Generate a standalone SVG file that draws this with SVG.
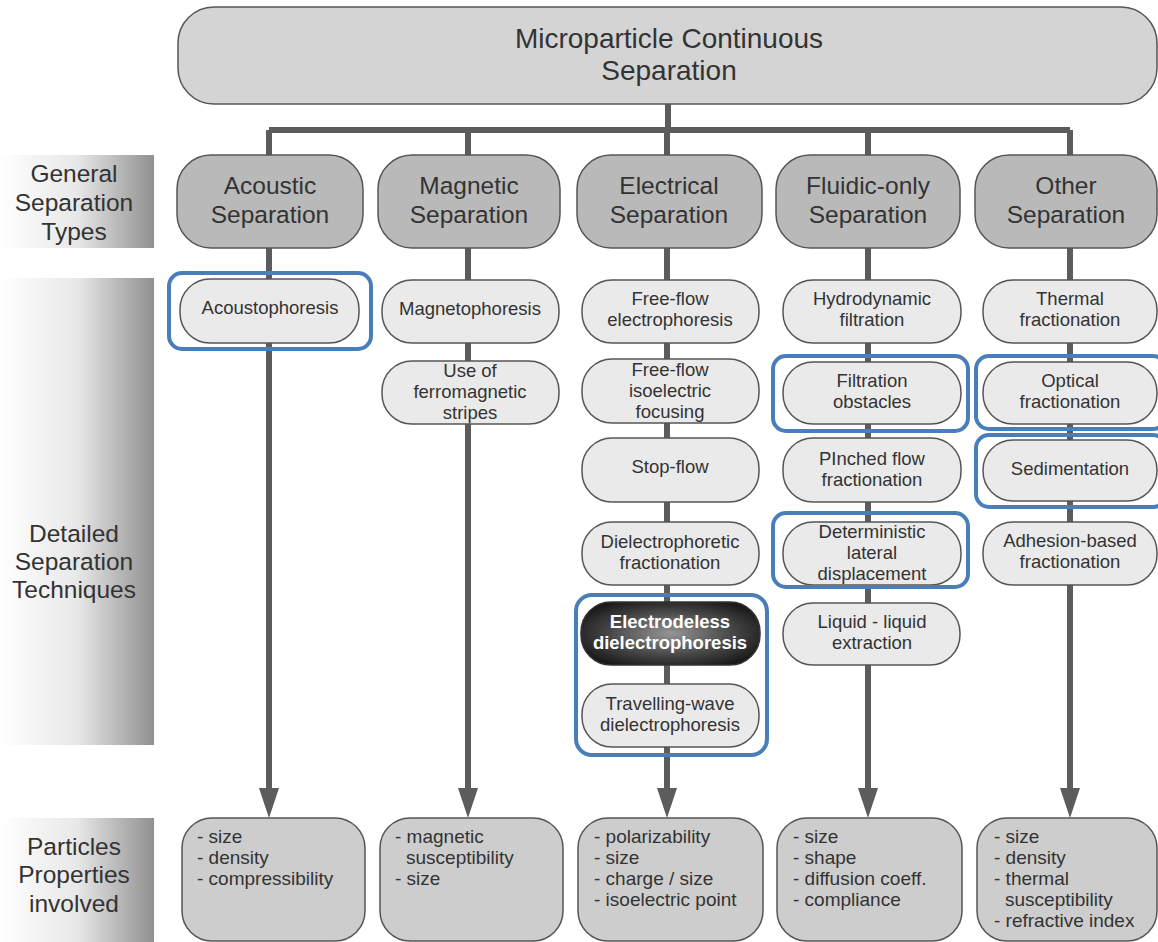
<svg xmlns="http://www.w3.org/2000/svg" width="1158" height="942" viewBox="0 0 1158 942">
<defs>
<linearGradient id="lab" x1="0" y1="0" x2="1" y2="0">
<stop offset="0" stop-color="#ffffff"/>
<stop offset="0.5" stop-color="#e8e8e8"/>
<stop offset="1" stop-color="#909090"/>
</linearGradient>
<radialGradient id="dark" cx="0.5" cy="0.5" r="0.6">
<stop offset="0" stop-color="#959595"/>
<stop offset="0.55" stop-color="#4a4a4a"/>
<stop offset="1" stop-color="#161616"/>
</radialGradient>
<style>
text{font-family:"Liberation Sans",Arial,sans-serif;fill:#333;}
.top{fill:#d4d4d4;stroke:#555;stroke-width:1.5;}
.cat{fill:#b9b9b9;stroke:#555;stroke-width:1.5;}
.tech{fill:#eaeaea;stroke:#555;stroke-width:1.5;}
.prop{fill:#cdcdcd;stroke:#555;stroke-width:1.5;}
.hl{fill:none;stroke:#4a7ebb;stroke-width:4;}
.ln{stroke:#5c5c5c;stroke-width:6;fill:none;}
.t26{font-size:28px;text-anchor:middle;}
.t23{font-size:24.5px;text-anchor:middle;}
.t22{font-size:24.5px;text-anchor:middle;}
.t18{font-size:18.5px;text-anchor:middle;}
.p18{font-size:19px;}
</style>
</defs>
<rect width="1158" height="942" fill="#ffffff"/>

<g id="labels">
<rect x="0" y="155" width="154" height="93" fill="url(#lab)"/>
<text class="t22" x="74" y="182">General</text>
<text class="t22" x="74" y="211">Separation</text>
<text class="t22" x="74" y="240">Types</text>
<rect x="0" y="278" width="154" height="467" fill="url(#lab)"/>
<text class="t22" x="74" y="542">Detailed</text>
<text class="t22" x="74" y="570">Separation</text>
<text class="t22" x="74" y="598">Techniques</text>
<rect x="0" y="818" width="154" height="124" fill="url(#lab)"/>
<text class="t22" x="74" y="855">Particles</text>
<text class="t22" x="74" y="883">Properties</text>
<text class="t22" x="74" y="912">involved</text>
</g>

<g id="connectors">
<path class="ln" d="M668 104 V130 M269 130 H1070 M269 130 V155 M468 130 V155 M667 130 V155 M868 130 V155 M1070 130 V155"/>
<path class="ln" d="M269 248 V792 M468 248 V792 M667 248 V792 M868 248 V792 M1070 248 V792"/>
<g fill="#5c5c5c">
<polygon points="259,788 279,788 269,818"/>
<polygon points="458,788 478,788 468,818"/>
<polygon points="657,788 677,788 667,818"/>
<polygon points="858,788 878,788 868,818"/>
<polygon points="1060,788 1080,788 1070,818"/>
</g>
</g>

<g id="root">
<rect class="top" x="178" y="7" width="979" height="97" rx="36"/>
<text class="t26" x="669" y="48">Microparticle Continuous</text>
<text class="t26" x="669" y="80">Separation</text>
</g>

<g id="cat-acoustic"><rect class="cat" x="177" y="155" width="186" height="93" rx="34"/><text class="t23" x="270" y="194">Acoustic</text><text class="t23" x="270" y="223">Separation</text></g>
<g id="cat-magnetic"><rect class="cat" x="378" y="155" width="182" height="93" rx="34"/><text class="t23" x="469" y="194">Magnetic</text><text class="t23" x="469" y="223">Separation</text></g>
<g id="cat-electrical"><rect class="cat" x="577" y="155" width="185" height="93" rx="34"/><text class="t23" x="669" y="194">Electrical</text><text class="t23" x="669" y="223">Separation</text></g>
<g id="cat-fluidic"><rect class="cat" x="776" y="155" width="184" height="93" rx="34"/><text class="t23" x="868" y="194">Fluidic-only</text><text class="t23" x="868" y="223">Separation</text></g>
<g id="cat-other"><rect class="cat" x="975" y="155" width="182" height="93" rx="34"/><text class="t23" x="1066" y="194">Other</text><text class="t23" x="1066" y="223">Separation</text></g>

<g id="t-acoustophoresis"><rect class="tech" x="180" y="279" width="179" height="64" rx="30"/><text class="t18" x="270" y="314">Acoustophoresis</text></g>

<g id="t-magnetophoresis"><rect class="tech" x="382" y="280" width="177" height="63" rx="30"/><text class="t18" x="470" y="315">Magnetophoresis</text></g>
<g id="t-ferro"><rect class="tech" x="382" y="361" width="177" height="63" rx="30"/><text class="t18" x="470" y="377">Use of</text><text class="t18" x="470" y="398">ferromagnetic</text><text class="t18" x="470" y="419">stripes</text></g>

<g id="t-ffe"><rect class="tech" x="582" y="280" width="177" height="63" rx="30"/><text class="t18" x="670" y="305">Free-flow</text><text class="t18" x="670" y="326">electrophoresis</text></g>
<g id="t-ffief"><rect class="tech" x="582" y="359" width="177" height="64" rx="30"/><text class="t18" x="670" y="376">Free-flow</text><text class="t18" x="670" y="397">isoelectric</text><text class="t18" x="670" y="418">focusing</text></g>
<g id="t-stopflow"><rect class="tech" x="582" y="438" width="177" height="64" rx="30"/><text class="t18" x="670" y="473">Stop-flow</text></g>
<g id="t-depf"><rect class="tech" x="582" y="522" width="177" height="63" rx="30"/><text class="t18" x="670" y="548">Dielectrophoretic</text><text class="t18" x="670" y="569">fractionation</text></g>
<g id="t-edep"><rect x="581" y="602" width="179" height="63" rx="30" fill="url(#dark)" stroke="#333" stroke-width="1.5"/><text class="t18" x="670" y="628" style="fill:#fff;font-weight:bold">Electrodeless</text><text class="t18" x="670" y="649" style="fill:#fff;font-weight:bold">dielectrophoresis</text></g>
<g id="t-twdep"><rect class="tech" x="582" y="684" width="177" height="63" rx="30"/><text class="t18" x="670" y="710">Travelling-wave</text><text class="t18" x="670" y="731">dielectrophoresis</text></g>

<g id="t-hydro"><rect class="tech" x="783" y="280" width="178" height="63" rx="30"/><text class="t18" x="872" y="305">Hydrodynamic</text><text class="t18" x="872" y="326">filtration</text></g>
<g id="t-obstacles"><rect class="tech" x="783" y="362" width="178" height="62" rx="30"/><text class="t18" x="872" y="387">Filtration</text><text class="t18" x="872" y="408">obstacles</text></g>
<g id="t-pinched"><rect class="tech" x="783" y="438" width="178" height="64" rx="30"/><text class="t18" x="872" y="465">PInched flow</text><text class="t18" x="872" y="486">fractionation</text></g>
<g id="t-dld"><rect class="tech" x="783" y="522" width="178" height="63" rx="30"/><text class="t18" x="872" y="538">Deterministic</text><text class="t18" x="872" y="559">lateral</text><text class="t18" x="872" y="580">displacement</text></g>
<g id="t-lle"><rect class="tech" x="783" y="603" width="177" height="62" rx="30"/><text class="t18" x="872" y="628">Liquid - liquid</text><text class="t18" x="872" y="649">extraction</text></g>

<g id="t-thermal"><rect class="tech" x="983" y="280" width="174" height="63" rx="30"/><text class="t18" x="1070" y="305">Thermal</text><text class="t18" x="1070" y="326">fractionation</text></g>
<g id="t-optical"><rect class="tech" x="983" y="362" width="174" height="62" rx="30"/><text class="t18" x="1070" y="387">Optical</text><text class="t18" x="1070" y="408">fractionation</text></g>
<g id="t-sedim"><rect class="tech" x="983" y="440" width="174" height="61" rx="30"/><text class="t18" x="1070" y="475">Sedimentation</text></g>
<g id="t-adhesion"><rect class="tech" x="983" y="522" width="174" height="63" rx="30"/><text class="t18" x="1070" y="547">Adhesion-based</text><text class="t18" x="1070" y="568">fractionation</text></g>

<g id="highlights">
<rect class="hl" x="169" y="273" width="202" height="76" rx="13"/>
<rect class="hl" x="773" y="356" width="195" height="75" rx="13"/>
<rect class="hl" x="773" y="513" width="195" height="74" rx="13"/>
<rect class="hl" x="976" y="356" width="190" height="73" rx="13"/>
<rect class="hl" x="976" y="435" width="190" height="72" rx="13"/>
<rect class="hl" x="576" y="595" width="191" height="160" rx="16"/>
</g>

<g id="p-acoustic"><rect class="prop" x="182" y="818" width="183" height="123" rx="30"/>
<text class="p18" x="197" y="843">- size</text><text class="p18" x="197" y="864">- density</text><text class="p18" x="197" y="885">- compressibility</text></g>
<g id="p-magnetic"><rect class="prop" x="380" y="818" width="183" height="123" rx="30"/>
<text class="p18" x="395" y="843">- magnetic</text><text class="p18" x="406" y="864">susceptibility</text><text class="p18" x="395" y="885">- size</text></g>
<g id="p-electrical"><rect class="prop" x="578" y="818" width="185" height="123" rx="30"/>
<text class="p18" x="594" y="843">- polarizability</text><text class="p18" x="594" y="864">- size</text><text class="p18" x="594" y="885">- charge / size</text><text class="p18" x="594" y="906">- isoelectric point</text></g>
<g id="p-fluidic"><rect class="prop" x="777" y="818" width="185" height="123" rx="30"/>
<text class="p18" x="793" y="843">- size</text><text class="p18" x="793" y="864">- shape</text><text class="p18" x="793" y="885">- diffusion coeff.</text><text class="p18" x="793" y="906">- compliance</text></g>
<g id="p-other"><rect class="prop" x="977" y="818" width="180" height="123" rx="30"/>
<text class="p18" x="994" y="843">- size</text><text class="p18" x="994" y="864">- density</text><text class="p18" x="994" y="885">- thermal</text><text class="p18" x="1005" y="906">susceptibility</text><text class="p18" x="994" y="927">- refractive index</text></g>
</svg>
